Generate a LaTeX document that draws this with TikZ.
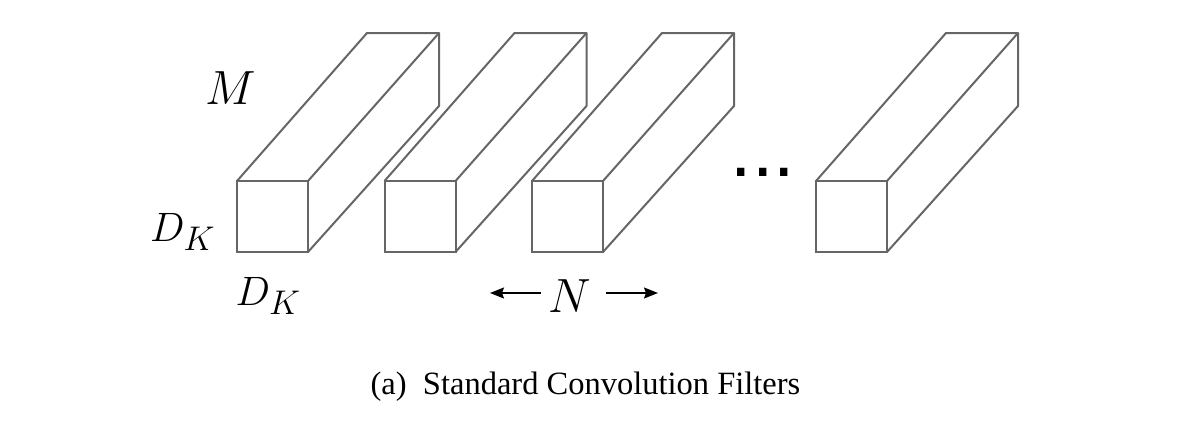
\documentclass[tikz,border=0pt]{standalone}
\usepackage{amsmath}
\usepackage{fontspec}
\setmainfont{Liberation Serif}
\newfontfamily\dotsfont{Liberation Sans}
\usepackage{xcolor}
\usepackage{tikz}
\usetikzlibrary{arrows.meta}
\usetikzlibrary{calc, matrix, positioning}
\definecolor{edgegray}{HTML}{666666}
\tikzstyle{square}=[rectangle, draw=edgegray, minimum size=71pt, inner sep=0pt, outer sep=0pt]
\tikzstyle{edge}=[draw=edgegray, line join=round]
\tikzstyle{bigmath}=[inner sep=0pt, font=\Huge, scale=1.93, transform shape]
\tikzstyle{submath}=[inner sep=0pt, font=\Huge, scale=1.65, transform shape]

\begin{document}
\begin{tikzpicture}[x=1pt, y=1pt]

\tikzset{>={Stealth[length=14pt, width=11pt, inset=2pt]}}
\tikzset{every path/.style={line width=2pt}}
\useasboundingbox (0,0) rectangle (1202,-424);

% Front faces
\matrix (m0) [
    ampersand replacement=\&,
    matrix of math nodes,
    nodes in empty cells,
    column sep=74.5pt,
    anchor=north west,
    inner sep=0pt,
    outer sep=0pt,
] at (236,-180)
{
    |[square]| \&
    |[square]| \&
    |[square]| \&
    |[minimum width=62pt, inner sep=0pt]| \&
    |[square]| \\
};

% Long sides going back
\foreach \i in {1,2,3,5} {
    \draw[edge] (m0-1-\i.north west) -- ++(130,148) -- ($(m0-1-\i.north east)+(131,148)$) -- ($(m0-1-\i.south east)+(131,146)$) -- (m0-1-\i.south east);
    \draw[edge] (m0-1-\i.north east) -- ++(131,148);
}

% Labels
\node[bigmath] (mlabel) at (231,-88) {$M$};
\node[submath, anchor=east] (dleft) at (217,-232) {$D_K$};
\node[submath, anchor=west] (dbottom) at (234,-296) {$D_K$};
\node[bigmath] (nlabel) at (570,-296) {$N$};
\node[inner sep=0pt, font=\dotsfont\fontsize{77pt}{80pt}\selectfont, anchor=base] (dots) at (763,-176) {...};
\node[inner sep=0pt, font=\fontsize{32.5pt}{34pt}\selectfont] (caption) at (585.5,-386.5) {(a)\enspace Standard Convolution Filters};

% Arrows either side of N
\coordinate (nleft) at (490,-293);
\coordinate (nright) at (658,-293);
\draw[->, line width=1.5pt, shorten <=6pt] (nlabel.west |- nleft) -- (nleft);
\draw[->, line width=1.5pt, shorten <=13pt] (nlabel.east |- nright) -- (nright);

\end{tikzpicture}
\end{document}
